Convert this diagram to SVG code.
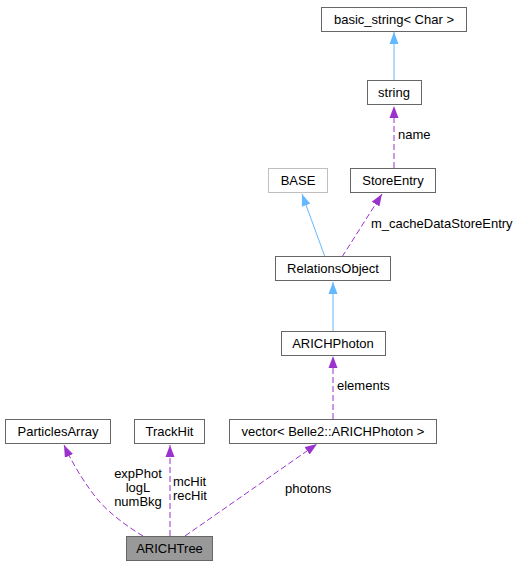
<svg xmlns="http://www.w3.org/2000/svg" width="519" height="567" viewBox="0 0 519 567">
<defs>
<style>
text{font-family:"Liberation Sans",Arial,Helvetica,sans-serif;font-size:13px;fill:#000}
.box rect{fill:#fff;stroke:#666;stroke-width:1}
.box text{text-anchor:middle}
.gray rect{stroke:#bfbfbf}
.cur rect{fill:#999}
.inh{fill:none;stroke:#63b8ff;stroke-width:1}
.use{fill:none;stroke:#9a32cd;stroke-width:1;stroke-dasharray:6,3}
.lbl{text-anchor:start}
.mid{text-anchor:middle}
</style>
<marker id="ab" viewBox="0 0 12 10" refX="12" refY="5" markerWidth="12" markerHeight="10" markerUnits="userSpaceOnUse" orient="auto"><path d="M0,0.5L12,5L0,9.5z" fill="#63b8ff"/></marker>
<marker id="ap" viewBox="0 0 12 10" refX="12" refY="5" markerWidth="12" markerHeight="10" markerUnits="userSpaceOnUse" orient="auto"><path d="M0,0.5L12,5L0,9.5z" fill="#9a32cd"/></marker>
</defs>
<g id="edges">
<path class="inh" d="M394,80L394,32" marker-end="url(#ab)"/>
<path class="use" d="M394,168L394,106" marker-end="url(#ap)"/>
<path class="inh" d="M325,257L302,194" marker-end="url(#ab)"/>
<path class="use" d="M342,257L382,194" marker-end="url(#ap)"/>
<path class="inh" d="M333,331L333,282" marker-end="url(#ab)"/>
<path class="use" d="M333,419L333,356" marker-end="url(#ap)"/>
<path class="use" d="M143,536C128,527 110,514 98,500C88,488 74,467 64,445" marker-end="url(#ap)"/>
<path class="use" d="M170,536L170,445" marker-end="url(#ap)"/>
<path class="use" d="M185,536L317,444" marker-end="url(#ap)"/>
<text class="lbl" x="398" y="139">name</text>
<text class="lbl" x="371" y="228">m_cacheDataStoreEntry</text>
<text class="lbl" x="337" y="390">elements</text>
<text class="mid" x="138" y="478">expPhot</text>
<text class="mid" x="138" y="492">logL</text>
<text class="mid" x="138" y="506">numBkg</text>
<text class="lbl" x="173" y="486">mcHit</text>
<text class="lbl" x="173" y="500">recHit</text>
<text class="lbl" x="285" y="493">photons</text>
</g>
<g id="basic_string" class="box"><rect x="321.5" y="7.5" width="145" height="24"/><text x="394" y="24">basic_string&lt; Char &gt;</text></g>
<g id="string" class="box"><rect x="367.5" y="80.5" width="54" height="24"/><text x="394" y="97">string</text></g>
<g id="BASE" class="box gray"><rect x="268.5" y="168.5" width="59" height="24"/><text x="298" y="185">BASE</text></g>
<g id="StoreEntry" class="box"><rect x="350.5" y="168.5" width="85" height="24"/><text x="393" y="185">StoreEntry</text></g>
<g id="RelationsObject" class="box"><rect x="275.5" y="256.5" width="115" height="24"/><text x="333" y="273">RelationsObject</text></g>
<g id="ARICHPhoton" class="box"><rect x="281.5" y="331.5" width="104" height="24"/><text x="333" y="348">ARICHPhoton</text></g>
<g id="vector" class="box"><rect x="229.5" y="419.5" width="207" height="24"/><text x="333" y="436">vector&lt; Belle2::ARICHPhoton &gt;</text></g>
<g id="ParticlesArray" class="box"><rect x="5.5" y="419.5" width="105" height="24"/><text x="58" y="436">ParticlesArray</text></g>
<g id="TrackHit" class="box"><rect x="134.5" y="419.5" width="70" height="24"/><text x="169.5" y="436">TrackHit</text></g>
<g id="ARICHTree" class="box cur"><rect x="126.5" y="536.5" width="86" height="24"/><text x="169.5" y="553">ARICHTree</text></g>
</svg>
